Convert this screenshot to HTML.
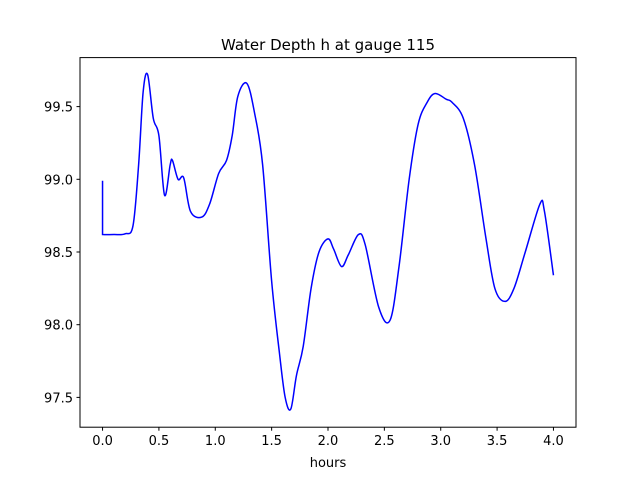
<!DOCTYPE html>
<html><head><meta charset="utf-8"><style>
body{margin:0;background:#fff;}
svg text{font-family:"DejaVu Sans","Liberation Sans",sans-serif;fill:#000;}
</style></head><body>
<svg id="chart" width="640" height="480" viewBox="0 0 640 480" xmlns="http://www.w3.org/2000/svg">
<rect width="640" height="480" fill="#fff"/>
<text x="328" y="50" text-anchor="middle" font-size="15">Water Depth h at gauge 115</text>
<g id="plot"></g>
<rect x="80" y="57.6" width="496" height="369.6" fill="none" stroke="#000" stroke-width="1"/>
<text x="328" y="467" text-anchor="middle" font-size="13">hours</text>
</svg>
<script>
const times=[0,0,0.1,0.2,0.27,0.32,0.36,0.4,0.45,0.5,0.55,0.6,0.62,0.67,0.72,0.78,0.88,0.95,1.03,1.1,1.15,1.2,1.28,1.35,1.42,1.5,1.57,1.62,1.67,1.72,1.78,1.85,1.92,2.0,2.05,2.12,2.18,2.27,2.33,2.45,2.55,2.63,2.72,2.8,2.88,2.95,3.05,3.1,3.2,3.3,3.4,3.48,3.57,3.65,3.75,3.88,3.92,4.0];
const depths=[98.99,98.62,98.62,98.625,98.68,99.1,99.6,99.72,99.42,99.3,98.89,99.1,99.13,99.0,99.01,98.78,98.74,98.83,99.04,99.13,99.3,99.57,99.66,99.45,99.1,98.3,97.8,97.5,97.42,97.65,97.85,98.25,98.5,98.59,98.52,98.4,98.48,98.62,98.55,98.12,98.03,98.4,99.0,99.38,99.53,99.59,99.55,99.53,99.42,99.1,98.6,98.25,98.16,98.25,98.5,98.83,98.78,98.34];
const xTicks=[0,0.5,1.0,1.5,2.0,2.5,3.0,3.5,4.0];
const yTicks=[97.5,98.0,98.5,99.0,99.5];
const X0=80,X1=576,Y0=427.2,Y1=57.6,xmin=-0.2,xmax=4.2,ymin=97.295,ymax=99.837;
const sx=v=>X0+(v-xmin)/(xmax-xmin)*(X1-X0);
const sy=v=>Y0-(v-ymin)/(ymax-ymin)*(Y0-Y1);
const NS="http://www.w3.org/2000/svg";
const g=document.getElementById('plot');
function mk(t,a){const e=document.createElementNS(NS,t);for(const k in a)e.setAttribute(k,a[k]);g.appendChild(e);return e;}
xTicks.forEach(t=>{
 const l=mk('line',{x1:sx(t),x2:sx(t),y1:Y0,y2:Y0+3.5,stroke:'#000'});
 
 
 const tx=mk('text',{x:sx(t),y:Y0+18,'text-anchor':'middle','font-size':'13'});
 tx.textContent=t.toFixed(1);
 
 
});
yTicks.forEach(t=>{
 const l=mk('line',{x1:X0-3.5,x2:X0,y1:sy(t),y2:sy(t),stroke:'#000'});
 
 
 const tx=mk('text',{x:X0-7,y:sy(t)+5,'text-anchor':'end','font-size':'13'});
 tx.textContent=t.toFixed(1);
 
 
});
const pts=times.map((t,i)=>[sx(t),sy(depths[i])]);
let d='M'+pts[0][0]+','+pts[0][1]+' L'+pts[1][0]+','+pts[1][1];
for(let i=1;i<pts.length-1;i++){
 const p0=pts[Math.max(i-1,1)],p1=pts[i],p2=pts[i+1],p3=pts[Math.min(i+2,pts.length-1)];
 const c1=[p1[0]+(p2[0]-p0[0])/6,p1[1]+(p2[1]-p0[1])/6];
 const c2=[p2[0]-(p3[0]-p1[0])/6,p2[1]-(p3[1]-p1[1])/6];
 d+=` C${c1[0]},${c1[1]} ${c2[0]},${c2[1]} ${p2[0]},${p2[1]}`;
}
const path=mk('path',{d:d,fill:'none',stroke:'#0000ff','stroke-width':'1.5'});


</script>
</body></html>
